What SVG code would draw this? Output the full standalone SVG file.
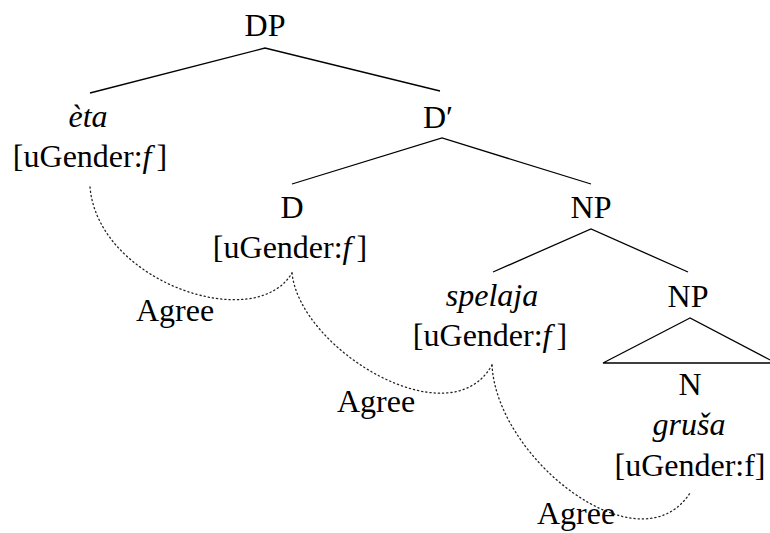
<svg xmlns="http://www.w3.org/2000/svg" width="770" height="533" viewBox="0 0 770 533">
<style>
text{font-family:"Liberation Serif","Times New Roman",serif;font-size:32px;fill:#000;text-anchor:middle}
.it{font-style:italic}
.ag{text-anchor:start}
.edge{stroke:#000;stroke-width:1.3;fill:none}
.agree{stroke:#222;stroke-width:1.3;fill:none;stroke-dasharray:1.2 3;stroke-linecap:round}
</style>
<rect width="770" height="533" fill="#fff"/>
<g id="connectors">
<polyline class="edge" points="90,93 265,48 440,91"/>
<polyline class="edge" points="292,184 442,138 591,184"/>
<polyline class="edge" points="493,272 591,229 688,272"/>
<polygon class="edge" points="690,318 603,363 776,363"/>
<path class="agree" d="M90,187 C98,282 255,335 292,273"/>
<path class="agree" d="M292,273 C300,350 450,440 492,365"/>
<path class="agree" d="M492,365 C497,460 640,570 690,493"/>
</g>
<g id="DP"><text x="265" y="36">DP</text></g>
<g id="eta"><text class="it" x="88" y="127">èta</text><text x="90" y="167">[uGender:<tspan class="it">f</tspan><tspan dx="5">]</tspan></text></g>
<g id="Dbar"><text x="438" y="128">D′</text></g>
<g id="D"><text x="292" y="218">D</text><text x="290" y="258">[uGender:<tspan class="it">f</tspan><tspan dx="5">]</tspan></text></g>
<g id="NP1"><text x="591" y="218">NP</text></g>
<g id="spelaja"><text class="it" x="492" y="306">spelaja</text><text x="490" y="346">[uGender:<tspan class="it">f</tspan><tspan dx="5">]</tspan></text></g>
<g id="NP2"><text x="688" y="307">NP</text></g>
<g id="N"><text x="690" y="395">N</text><text class="it" x="689" y="435">gruša</text><text x="690" y="476">[uGender:f]</text></g>
<g id="agree1"><text class="ag" x="136" y="321">Agree</text></g>
<g id="agree2"><text class="ag" x="337" y="412">Agree</text></g>
<g id="agree3"><text class="ag" x="537" y="524">Agree</text></g>
</svg>
